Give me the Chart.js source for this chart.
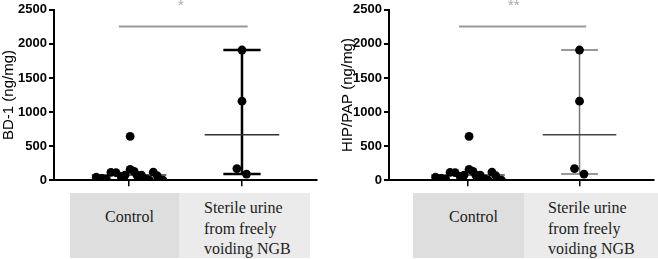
<!DOCTYPE html>
<html>
<head>
<meta charset="utf-8">
<script src="https://cdn.jsdelivr.net/npm/chart.js@4.4.1/dist/chart.umd.min.js"></script>
<style>
  html, body { margin:0; padding:0; background:#fff; }
  body { width:658px; height:259px; position:relative; overflow:hidden; }
  canvas { position:absolute; top:0; }
  .box { position:absolute; top:193px; height:65px; }
  .lbl { position:absolute; font-family:"Liberation Serif","Times New Roman",serif; font-size:16px; color:#222; white-space:nowrap; }
  .star { position:absolute; font-family:"Liberation Sans",Arial,sans-serif; font-size:15px; color:#aaa; }
</style>
</head>
<body>
<canvas id="c1" width="330" height="190" style="left:0px"></canvas>
<canvas id="c2" width="328" height="190" style="left:330px"></canvas>

<div class="box" style="left:70px;width:109px;background:#dedede"></div>
<div class="box" style="left:179px;width:131px;background:#ebebeb"></div>
<div class="box" style="left:413px;width:111px;background:#dedede"></div>
<div class="box" style="left:524px;width:134px;background:#ebebeb"></div>

<div class="lbl" id="l1a" style="left:105px;top:208px"></div>
<div class="lbl" id="l1b" style="left:204px;top:198px;white-space:pre;line-height:20.5px"></div>
<div class="lbl" id="l2a" style="left:449px;top:208px"></div>
<div class="lbl" id="l2b" style="left:548px;top:198px;white-space:pre;line-height:20.5px"></div>

<div class="star" id="s1" style="left:178px;top:-4px"></div>
<div class="star" id="s2" style="left:508px;top:-4px"></div>

<script>
// ---- data ----
const categories = ['Control', 'Sterile urine\nfrom freely\nvoiding NGB'];
const yTitles = ['BD-1 (ng/mg)', 'HIP/PAP (ng/mg)'];
const yTicks = [0, 500, 1000, 1500, 2000, 2500];
const controlValues = [43, 25, 15, 115, 110, 55, 75, 642, 160, 130, 75, 75, 15, 0, 118, 65, 0];
const controlJitter = [-0.29, -0.24, -0.20, -0.16, -0.115, -0.07, -0.035, 0.01, 0.01, 0.045, 0.07, 0.11, 0.155, 0.18, 0.215, 0.25, 0.30];
const ngbValues = [1910, 1160, 170, 90];
const ngbJitter = [0, 0, -0.045, 0.04];
const medianValues = [75, 665];
const lowValues = [30, 90];
const highValues = [120, 1910];
const sigLevel = 2256;
const sigLabels = ['*', '**'];

document.getElementById('l1a').textContent = categories[0];
document.getElementById('l1b').textContent = categories[1];
document.getElementById('l2a').textContent = categories[0];
document.getElementById('l2b').textContent = categories[1];
document.getElementById('s1').textContent = sigLabels[0];
document.getElementById('s2').textContent = sigLabels[1];

Chart.defaults.font.family = 'Arial';

function makeChart(id, title, opts) {
  const pts = [];
  controlValues.forEach((v, i) => pts.push({x: 1 + controlJitter[i], y: v}));
  ngbValues.forEach((v, i) => pts.push({x: 2 + ngbJitter[i], y: v}));
  const datasets = [
    { type: 'scatter', data: pts, pointRadius: 4.4, pointBackgroundColor: '#000', pointBorderWidth: 0, order: 0 }
  ];
  const line = (data, color, width) => datasets.push({
    type: 'scatter', data, showLine: true, borderColor: color, borderWidth: width,
    pointRadius: 0, order: 1
  });
  [1, 2].forEach((c, k) => {
    line([{x: c - 0.33, y: medianValues[k]}, {x: c + 0.33, y: medianValues[k]}], opts.medColor, opts.medWidth);
    if (k === 1) {
      line([{x: c, y: lowValues[k]}, {x: c, y: highValues[k]}], opts.barColor, opts.barWidth);
      line([{x: c - 0.165, y: lowValues[k]}, {x: c + 0.165, y: lowValues[k]}], opts.barColor, opts.barWidth);
      line([{x: c - 0.165, y: highValues[k]}, {x: c + 0.165, y: highValues[k]}], opts.barColor, opts.barWidth);
    }
  });
  line([{x: opts.sig[0], y: sigLevel}, {x: opts.sig[1], y: sigLevel}], '#9a9a9a', 2);

  new Chart(document.getElementById(id), {
    type: 'scatter',
    data: { datasets },
    options: {
      responsive: false, animation: false, devicePixelRatio: 1,
      layout: { padding: { top: 8, right: opts.padRight, left: 0, bottom: 0 } },
      plugins: { legend: { display: false }, tooltip: { enabled: false } },
      scales: {
        x: {
          type: 'linear', min: opts.xMin, max: 2.664,
          afterBuildTicks: s => { s.ticks = [{value: 1}, {value: 2}]; },
          afterFit: s => { s.height = 8; },
          ticks: { display: false },
          grid: { drawOnChartArea: false, drawTicks: true, tickLength: 6, color: '#000', lineWidth: 1.5 },
          border: { display: true, color: '#000', width: 2 }
        },
        y: {
          min: 0, max: 2500,
          afterBuildTicks: s => { s.ticks = yTicks.map(v => ({value: v})); },
          afterFit: s => { s.width = opts.yWidth; },
          ticks: { color: '#000', font: { family: 'Arial', size: 13, weight: 700 }, padding: 2,
                   callback: v => String(v) },
          grid: { drawOnChartArea: false, drawTicks: true, tickLength: 5, color: '#000', lineWidth: 2 },
          border: { display: true, color: '#000', width: 2 },
          title: { display: true, text: title, color: '#000', font: { family: 'Arial', size: 15 }, padding: { top: opts.titlePad, bottom: 0 } }
        }
      }
    }
  });
}

makeChart('c1', yTitles[0], { xMin: 0.336, yWidth: 54, padRight: 13, sig: [0.91, 2.05],
  medColor: '#333', medWidth: 1.5, barColor: '#000', barWidth: 2.5, titlePad: 0 });
makeChart('c2', yTitles[1], { xMin: 0.292, yWidth: 59, padRight: 1, sig: [0.92, 2.06],
  medColor: '#444', medWidth: 1.5, barColor: '#777', barWidth: 1.5, titlePad: 9 });
</script>
</body>
</html>
